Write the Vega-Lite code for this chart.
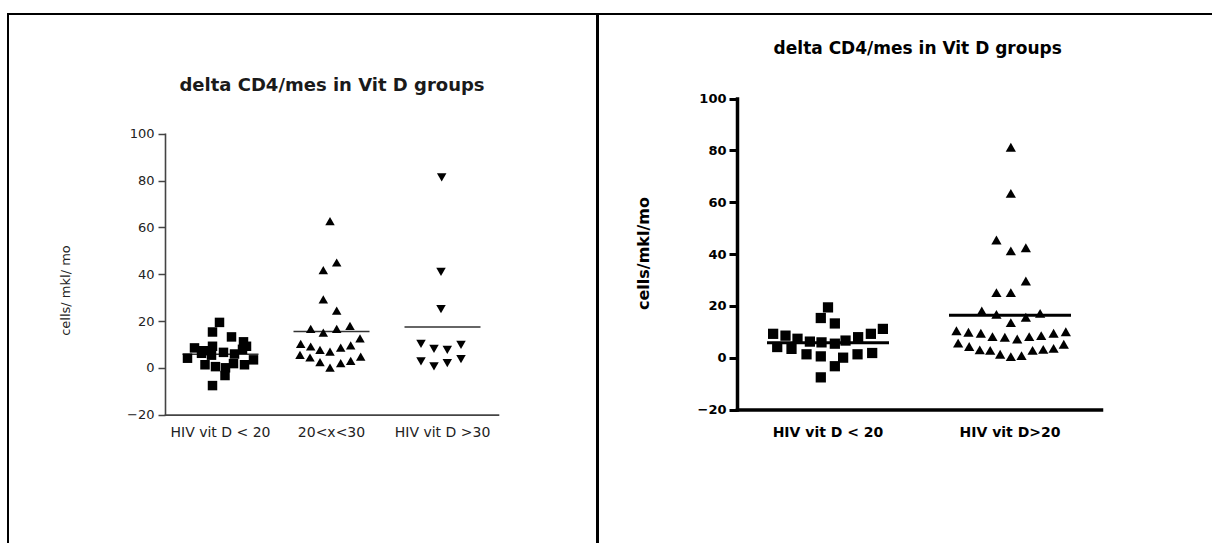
{
  "$schema": "https://vega.github.io/schema/vega-lite/v6.json",
  "background": "white",
  "padding": {"left": 7, "top": 13, "right": 0, "bottom": 0},
  "spacing": -2,
  "resolve": {"scale": {"shape": "independent", "xOffset": "independent"}},
  "config": {
    "view": {"stroke": "#000", "strokeWidth": 2},
    "axis": {"grid": false, "labelOverlap": false, "labelFlush": false}
  },
  "datasets": {
    "left": [
      {"group": "HIV vit D < 20", "v": 19.4, "slot": -0.1},
      {"group": "HIV vit D < 20", "v": 15.3, "slot": -0.8},
      {"group": "HIV vit D < 20", "v": 13.2, "slot": 1.1},
      {"group": "HIV vit D < 20", "v": 11.1, "slot": 2.3},
      {"group": "HIV vit D < 20", "v": 9.2, "slot": -0.8},
      {"group": "HIV vit D < 20", "v": 9.2, "slot": 2.6},
      {"group": "HIV vit D < 20", "v": 8.5, "slot": -2.6},
      {"group": "HIV vit D < 20", "v": 7.9, "slot": 2.2},
      {"group": "HIV vit D < 20", "v": 7.3, "slot": -1.7},
      {"group": "HIV vit D < 20", "v": 6.6, "slot": 0.3},
      {"group": "HIV vit D < 20", "v": 6.2, "slot": -1.9},
      {"group": "HIV vit D < 20", "v": 5.9, "slot": 1.4},
      {"group": "HIV vit D < 20", "v": 5.4, "slot": -0.9},
      {"group": "HIV vit D < 20", "v": 4.1, "slot": -3.3},
      {"group": "HIV vit D < 20", "v": 3.4, "slot": 3.3},
      {"group": "HIV vit D < 20", "v": 1.8, "slot": 1.3},
      {"group": "HIV vit D < 20", "v": 1.3, "slot": -1.55},
      {"group": "HIV vit D < 20", "v": 1.3, "slot": 2.4},
      {"group": "HIV vit D < 20", "v": 0.5, "slot": -0.5},
      {"group": "HIV vit D < 20", "v": 0.0, "slot": 0.5},
      {"group": "HIV vit D < 20", "v": -3.3, "slot": 0.45},
      {"group": "HIV vit D < 20", "v": -7.6, "slot": -0.8},

      {"group": "20<x<30", "v": 62.7, "slot": -0.15},
      {"group": "20<x<30", "v": 45.0, "slot": 0.52},
      {"group": "20<x<30", "v": 41.7, "slot": -0.82},
      {"group": "20<x<30", "v": 29.2, "slot": -0.82},
      {"group": "20<x<30", "v": 24.4, "slot": 0.52},
      {"group": "20<x<30", "v": 16.6, "slot": -2.08},
      {"group": "20<x<30", "v": 15.0, "slot": -0.82},
      {"group": "20<x<30", "v": 16.6, "slot": 0.52},
      {"group": "20<x<30", "v": 17.9, "slot": 1.85},
      {"group": "20<x<30", "v": 12.6, "slot": 2.85},
      {"group": "20<x<30", "v": 10.2, "slot": -3.08},
      {"group": "20<x<30", "v": 9.1, "slot": -2.08},
      {"group": "20<x<30", "v": 7.7, "slot": -1.15},
      {"group": "20<x<30", "v": 6.9, "slot": -0.15},
      {"group": "20<x<30", "v": 8.6, "slot": 0.92},
      {"group": "20<x<30", "v": 9.6, "slot": 1.92},
      {"group": "20<x<30", "v": 5.5, "slot": -3.15},
      {"group": "20<x<30", "v": 4.4, "slot": -2.15},
      {"group": "20<x<30", "v": 2.4, "slot": -1.15},
      {"group": "20<x<30", "v": 0.1, "slot": -0.15},
      {"group": "20<x<30", "v": 2.0, "slot": 0.92},
      {"group": "20<x<30", "v": 3.0, "slot": 1.92},
      {"group": "20<x<30", "v": 4.8, "slot": 2.92},

      {"group": "HIV vit D >30", "v": 81.4, "slot": -0.08},
      {"group": "HIV vit D >30", "v": 41.0, "slot": -0.15},
      {"group": "HIV vit D >30", "v": 25.1, "slot": -0.15},
      {"group": "HIV vit D >30", "v": 10.2, "slot": -2.15},
      {"group": "HIV vit D >30", "v": 8.1, "slot": -0.85},
      {"group": "HIV vit D >30", "v": 7.7, "slot": 0.48},
      {"group": "HIV vit D >30", "v": 9.8, "slot": 1.85},
      {"group": "HIV vit D >30", "v": 2.7, "slot": -2.15},
      {"group": "HIV vit D >30", "v": 0.6, "slot": -0.85},
      {"group": "HIV vit D >30", "v": 2.0, "slot": 0.48},
      {"group": "HIV vit D >30", "v": 3.7, "slot": 1.85}
    ],
    "right": [
      {"group": "HIV vit D < 20", "v": 9.2, "slot": -4.57},
      {"group": "HIV vit D < 20", "v": 4.1, "slot": -4.23},
      {"group": "HIV vit D < 20", "v": 8.5, "slot": -3.54},
      {"group": "HIV vit D < 20", "v": 3.4, "slot": -3.04},
      {"group": "HIV vit D < 20", "v": 7.3, "slot": -2.54},
      {"group": "HIV vit D < 20", "v": 1.3, "slot": -1.79},
      {"group": "HIV vit D < 20", "v": 6.2, "slot": -1.51},
      {"group": "HIV vit D < 20", "v": 15.3, "slot": -0.6},
      {"group": "HIV vit D < 20", "v": 19.4, "slot": 0.0},
      {"group": "HIV vit D < 20", "v": 0.5, "slot": -0.6},
      {"group": "HIV vit D < 20", "v": 5.9, "slot": -0.54},
      {"group": "HIV vit D < 20", "v": 13.2, "slot": 0.57},
      {"group": "HIV vit D < 20", "v": 5.4, "slot": 0.57},
      {"group": "HIV vit D < 20", "v": -3.3, "slot": 0.57},
      {"group": "HIV vit D < 20", "v": -7.6, "slot": -0.6},
      {"group": "HIV vit D < 20", "v": 0.0, "slot": 1.26},
      {"group": "HIV vit D < 20", "v": 6.6, "slot": 1.46},
      {"group": "HIV vit D < 20", "v": 1.3, "slot": 2.46},
      {"group": "HIV vit D < 20", "v": 7.9, "slot": 2.51},
      {"group": "HIV vit D < 20", "v": 9.2, "slot": 3.57},
      {"group": "HIV vit D < 20", "v": 1.8, "slot": 3.68},
      {"group": "HIV vit D < 20", "v": 11.1, "slot": 4.57},

      {"group": "HIV vit D>20", "v": 81.2, "slot": 0.07},
      {"group": "HIV vit D>20", "v": 63.4, "slot": 0.07},
      {"group": "HIV vit D>20", "v": 45.4, "slot": -1.13},
      {"group": "HIV vit D>20", "v": 41.2, "slot": 0.07},
      {"group": "HIV vit D>20", "v": 42.4, "slot": 1.32},
      {"group": "HIV vit D>20", "v": 29.6, "slot": 1.32},
      {"group": "HIV vit D>20", "v": 25.1, "slot": -1.13},
      {"group": "HIV vit D>20", "v": 25.1, "slot": 0.07},
      {"group": "HIV vit D>20", "v": 18.0, "slot": -2.35},
      {"group": "HIV vit D>20", "v": 16.7, "slot": -1.13},
      {"group": "HIV vit D>20", "v": 15.6, "slot": 1.32},
      {"group": "HIV vit D>20", "v": 17.1, "slot": 2.51},
      {"group": "HIV vit D>20", "v": 13.5, "slot": 0.07},
      {"group": "HIV vit D>20", "v": 10.4, "slot": -4.46},
      {"group": "HIV vit D>20", "v": 9.8, "slot": -3.46},
      {"group": "HIV vit D>20", "v": 9.4, "slot": -2.43},
      {"group": "HIV vit D>20", "v": 8.1, "slot": -1.46},
      {"group": "HIV vit D>20", "v": 7.9, "slot": -0.43},
      {"group": "HIV vit D>20", "v": 7.2, "slot": 0.6},
      {"group": "HIV vit D>20", "v": 8.1, "slot": 1.6},
      {"group": "HIV vit D>20", "v": 8.5, "slot": 2.6},
      {"group": "HIV vit D>20", "v": 9.4, "slot": 3.63},
      {"group": "HIV vit D>20", "v": 10.0, "slot": 4.65},
      {"group": "HIV vit D>20", "v": 5.6, "slot": -4.32},
      {"group": "HIV vit D>20", "v": 4.3, "slot": -3.4},
      {"group": "HIV vit D>20", "v": 3.0, "slot": -2.52},
      {"group": "HIV vit D>20", "v": 2.8, "slot": -1.65},
      {"group": "HIV vit D>20", "v": 1.3, "slot": -0.82},
      {"group": "HIV vit D>20", "v": 0.4, "slot": 0.07},
      {"group": "HIV vit D>20", "v": 0.8, "slot": 0.96},
      {"group": "HIV vit D>20", "v": 2.8, "slot": 1.88},
      {"group": "HIV vit D>20", "v": 3.2, "slot": 2.77},
      {"group": "HIV vit D>20", "v": 3.6, "slot": 3.63},
      {"group": "HIV vit D>20", "v": 5.2, "slot": 4.48}
    ]
  },
  "hconcat": [
    {
      "width": 589,
      "height": 545,
      "data": {"name": "left"},
      "title": {
        "text": "delta CD4/mes in Vit D groups",
        "frame": "group", "anchor": "middle", "offset": 0,
        "dx": 29.5, "dy": 90, "baseline": "middle",
        "font": "DejaVu Sans", "fontSize": 18, "fontWeight": "bold", "color": "#1a1a1a"
      },
      "layer": [
        {
          "transform": [{"aggregate": [{"op": "mean", "field": "v", "as": "m"}], "groupby": ["group"]}],
          "mark": {"type": "tick", "orient": "horizontal", "size": 76, "thickness": 1.5, "color": "#333", "opacity": 1},
          "encoding": {
            "x": {"field": "group", "type": "nominal"},
            "y": {"field": "m", "type": "quantitative"}
          }
        },
        {
          "mark": {"type": "point", "filled": true, "opacity": 1, "color": "#000", "size": 90},
          "encoding": {
            "x": {
              "field": "group", "type": "nominal",
              "sort": ["HIV vit D < 20", "20<x<30", "HIV vit D >30"],
              "scale": {"domain": ["HIV vit D < 20", "20<x<30", "HIV vit D >30"], "range": [157, 490], "paddingInner": 0, "paddingOuter": 0},
              "axis": {
                "orient": "bottom", "offset": -144.4, "domain": true, "domainColor": "#444", "domainWidth": 1.6, "domainCap": "square",
                "ticks": false, "tickSize": 0,
                "labelPadding": 11, "labelAngle": 0, "labelAlign": "center", "labelBaseline": "top",
                "labelFont": "DejaVu Sans", "labelFontSize": 14, "labelColor": "#222",
                "title": null
              }
            },
            "xOffset": {"field": "slot", "type": "quantitative", "scale": {"domain": [-5.55, 5.55], "nice": false, "zero": false}},
            "y": {
              "field": "v", "type": "quantitative",
              "scale": {"domain": [-20, 100], "range": [400.6, 119.8], "nice": false, "zero": false},
              "axis": {
                "values": [-20, 0, 20, 40, 60, 80, 100], "offset": -157,
                "domain": true, "domainColor": "#444", "domainWidth": 1.6, "domainCap": "square",
                "tickSize": 7, "tickWidth": 1.5, "tickColor": "#444",
                "labelFont": "DejaVu Sans", "labelFontSize": 13, "labelColor": "#222", "labelPadding": 4,
                "title": "cells/ mkl/ mo", "titleFont": "DejaVu Sans", "titleFontSize": 13, "titleFontWeight": "normal",
                "titleColor": "#222", "titleX": -100, "titleY": 276, "titleAngle": -90, "titleAlign": "center", "titleBaseline": "middle"
              }
            },
            "shape": {
              "field": "group", "type": "nominal",
              "scale": {"domain": ["HIV vit D < 20", "20<x<30", "HIV vit D >30"], "range": ["square", "triangle-up", "triangle-down"]},
              "legend": null
            }
          }
        }
      ]
    },
    {
      "width": 620,
      "height": 545,
      "data": {"name": "right"},
      "title": {
        "text": "delta CD4/mes in Vit D groups",
        "frame": "group", "anchor": "middle", "offset": 0,
        "dx": 9.7, "dy": 52, "baseline": "middle",
        "font": "DejaVu Sans", "fontSize": 17, "fontWeight": "bold", "color": "#000"
      },
      "layer": [
        {
          "transform": [{"aggregate": [{"op": "mean", "field": "v", "as": "m"}], "groupby": ["group"]}],
          "mark": {"type": "tick", "orient": "horizontal", "size": 122, "thickness": 3, "color": "#000", "opacity": 1},
          "encoding": {
            "x": {"field": "group", "type": "nominal"},
            "y": {"field": "m", "type": "quantitative"}
          }
        },
        {
          "mark": {"type": "point", "filled": true, "opacity": 1, "color": "#000", "size": 105},
          "encoding": {
            "x": {
              "field": "group", "type": "nominal",
              "sort": ["HIV vit D < 20", "HIV vit D>20"],
              "scale": {"domain": ["HIV vit D < 20", "HIV vit D>20"], "range": [139, 503], "paddingInner": 0, "paddingOuter": 0},
              "axis": {
                "orient": "bottom", "offset": -149.5, "domain": true, "domainColor": "#000", "domainWidth": 3.5, "domainCap": "square",
                "ticks": false, "tickSize": 0,
                "labelPadding": 16, "labelAngle": 0, "labelAlign": "center", "labelBaseline": "top",
                "labelFont": "DejaVu Sans", "labelFontSize": 14, "labelFontWeight": "bold", "labelColor": "#000",
                "title": null
              }
            },
            "xOffset": {"field": "slot", "type": "quantitative", "scale": {"domain": [-7.58, 7.58], "nice": false, "zero": false}},
            "y": {
              "field": "v", "type": "quantitative",
              "scale": {"domain": [-20, 100], "range": [395.5, 84.5], "nice": false, "zero": false},
              "axis": {
                "values": [-20, 0, 20, 40, 60, 80, 100], "offset": -139,
                "domain": true, "domainColor": "#000", "domainWidth": 3.5, "domainCap": "square",
                "tickSize": 8, "tickWidth": 3, "tickColor": "#000",
                "labelFont": "DejaVu Sans", "labelFontSize": 13, "labelFontWeight": "bold", "labelColor": "#000", "labelPadding": 3,
                "title": "cells/mkl/mo", "titleFont": "DejaVu Sans", "titleFontSize": 16, "titleFontWeight": "bold",
                "titleColor": "#000", "titleX": -93.3, "titleY": 239, "titleAngle": -90, "titleAlign": "center", "titleBaseline": "middle"
              }
            },
            "shape": {
              "field": "group", "type": "nominal",
              "scale": {"domain": ["HIV vit D < 20", "HIV vit D>20"], "range": ["square", "triangle-up"]},
              "legend": null
            }
          }
        }
      ]
    }
  ]
}
